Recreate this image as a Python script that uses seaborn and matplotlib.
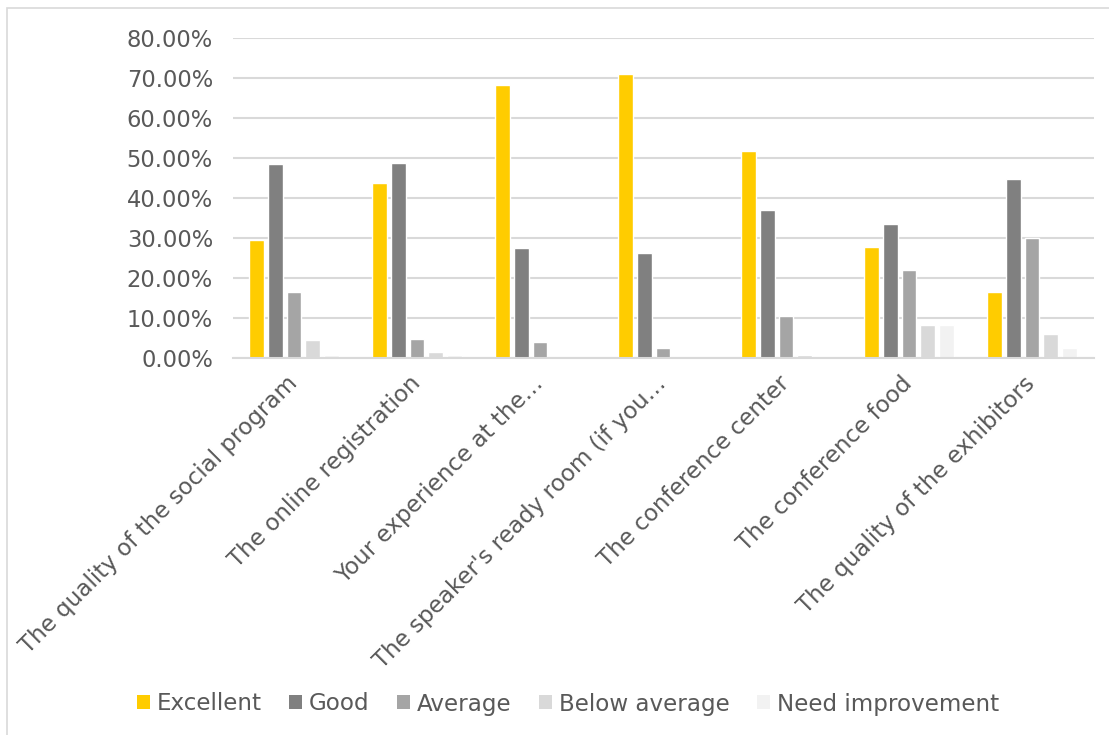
import matplotlib
matplotlib.use("Agg")
import matplotlib.pyplot as plt
import matplotlib.transforms as mtransforms
import seaborn as sns
import pandas as pd
from matplotlib.patches import Rectangle
from matplotlib.ticker import FuncFormatter

categories = [
    "The quality of the social program",
    "The online registration",
    "Your experience at the\u2026",
    "The speaker's ready room (if you\u2026",
    "The conference center",
    "The conference food",
    "The quality of the exhibitors",
]
series = ["Excellent", "Good", "Average", "Below average", "Need improvement"]
excellent = [29.4, 43.8, 68.3, 71.1, 51.7, 27.8, 16.6]
good = [48.6, 48.8, 27.5, 26.3, 36.9, 33.6, 44.8]
average = [16.5, 4.8, 3.9, 2.5, 10.6, 22.1, 29.9]
below_average = [4.6, 1.5, 0.0, 0.0, 0.7, 8.2, 6.0]
need_improvement = [0.8, 0.7, 0.0, 0.0, 0.0, 8.2, 2.5]
colors = ["#FFCC00", "#808080", "#A5A5A5", "#D9D9D9", "#F2F2F2"]

values = [excellent, good, average, below_average, need_improvement]
rows = []
for s, vals in zip(series, values):
    for c, v in zip(categories, vals):
        rows.append({"category": c, "series": s, "value": v})
df = pd.DataFrame(rows)

sns.set_theme(style="white")
plt.rcParams["font.family"] = ["DejaVu Sans"]
text_color = "#595959"

fig = plt.figure(figsize=(11.09, 7.35), dpi=100)
W, H = 1109, 735
ax = fig.add_axes([232.5 / W, 1 - 358 / H, 861 / W, 320 / H])

sns.barplot(data=df, x="category", y="value", hue="series", order=categories,
            hue_order=series, palette=colors, width=0.766, gap=0.22,
            saturation=1, ax=ax, legend=False)

ax.set_ylim(0, 80)
ax.set_xlim(-0.5, len(categories) - 0.5)
ax.set_yticks(range(0, 81, 10))
ax.yaxis.set_major_formatter(FuncFormatter(lambda v, p: f"{v:.2f}%"))
ax.grid(axis="y", color="#D9D9D9", linewidth=1.5)
ax.set_axisbelow(True)
for side in ["left", "right", "top"]:
    ax.spines[side].set_visible(False)
ax.spines["bottom"].set_color("#D9D9D9")
ax.spines["bottom"].set_linewidth(1.5)
ax.tick_params(axis="both", length=0, colors=text_color)
ax.tick_params(axis="y", pad=14, labelsize=16.3)
ax.tick_params(axis="x", pad=10, labelsize=16.6)
ax.set_xlabel("")
ax.set_ylabel("")
offset = mtransforms.ScaledTranslation(-6 / 72, 0, fig.dpi_scale_trans)
for lab in ax.get_xticklabels():
    lab.set_rotation(45)
    lab.set_ha("right")
    lab.set_va("top")
    lab.set_rotation_mode("anchor")
    lab.set_transform(lab.get_transform() + offset)

handles = [Rectangle((0, 0), 1, 1, facecolor=c, edgecolor="none") for c in colors]
fig.legend(handles, series, loc="center", bbox_to_anchor=(568 / W, 1 - 704 / H),
           ncol=5, frameon=False, fontsize=16.6, labelcolor=text_color,
           handlelength=0.55, handleheight=0.55, handletextpad=0.3,
           columnspacing=1.2)

fig.patches.append(Rectangle((7 / W, -0.05), 1.1, 1 - 8 / H + 0.05,
                             transform=fig.transFigure, fill=False,
                             edgecolor="#D9D9D9", linewidth=1.2))

fig.savefig("out.png", dpi=100)
